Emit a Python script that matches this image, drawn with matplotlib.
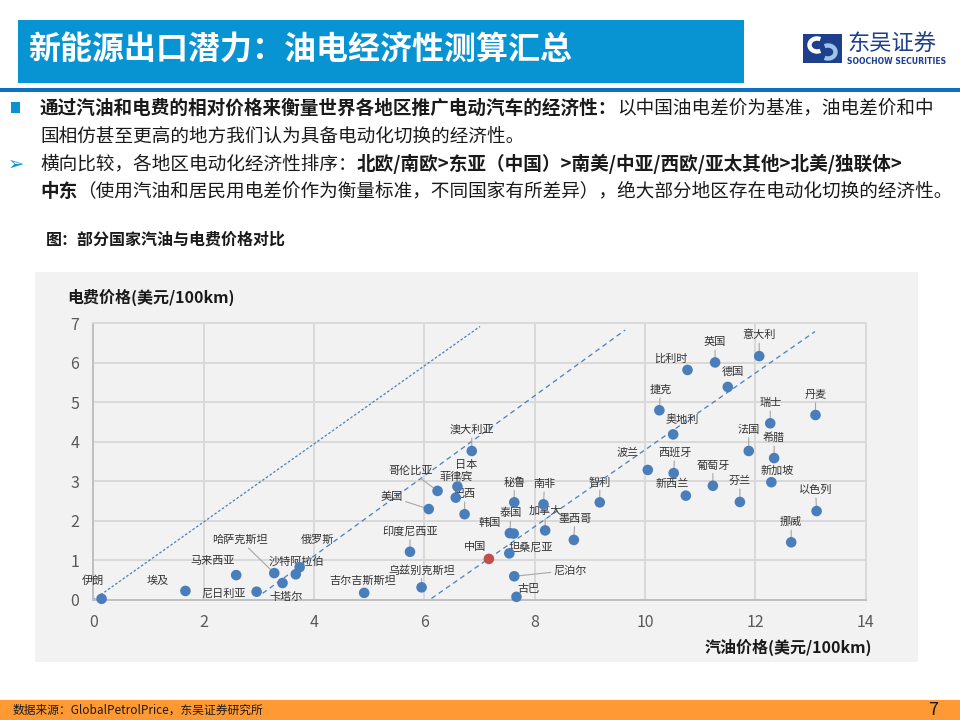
import matplotlib
matplotlib.use("Agg")
import matplotlib.pyplot as plt
from matplotlib.patches import Rectangle, Arc

plt.rcParams['font.family'] = ['Noto Sans CJK SC', 'DejaVu Sans']

# country, petrol price (USD/100km), electricity price (USD/100km)
countries = ['伊朗', '埃及', '马来西亚', '尼日利亚', '哈萨克斯坦', '卡塔尔', '沙特阿拉伯', '俄罗斯',
             '吉尔吉斯斯坦', '印度尼西亚', '乌兹别克斯坦', '美国', '哥伦比亚', '日本', '菲律宾', '巴西',
             '澳大利亚', '泰国', '韩国', '秘鲁', '南非', '加拿大', '墨西哥', '智利', '中国', '坦桑尼亚',
             '尼泊尔', '古巴', '波兰', '西班牙', '新西兰', '葡萄牙', '芬兰', '法国', '希腊', '新加坡',
             '以色列', '挪威', '丹麦', '瑞士', '奥地利', '捷克', '比利时', '英国', '德国', '意大利']
petrol = [0.15, 1.67, 2.59, 2.96, 3.28, 3.43, 3.67, 3.74,
          4.91, 5.74, 5.95, 6.08, 6.24, 6.60, 6.57, 6.73,
          6.86, 7.55, 7.62, 7.63, 8.16, 8.19, 8.71, 9.18, 7.17, 7.54,
          7.63, 7.67, 10.05, 10.52, 10.74, 11.23, 11.72, 11.88, 12.34, 12.29,
          13.11, 12.65, 13.09, 12.27, 10.51, 10.26, 10.77, 11.27, 11.50, 12.07]
power = [0.03, 0.23, 0.63, 0.21, 0.68, 0.43, 0.65, 0.83,
         0.18, 1.22, 0.32, 2.30, 2.76, 2.87, 2.59, 2.17,
         3.77, 1.69, 1.68, 2.47, 2.42, 1.76, 1.52, 2.47, 1.04, 1.18,
         0.60, 0.08, 3.29, 3.21, 2.64, 2.89, 2.48, 3.77, 3.59, 2.98,
         2.25, 1.46, 4.68, 4.47, 4.19, 4.80, 5.82, 6.01, 5.39, 6.17]

# label offsets in pixels (dx, dy up)
label_off = [(-9, 18), (-28, 10), (-24, 14), (-33, -2), (-34, 33), (4, -14), (1, 13), (18, 27),
             (-2, 12), (0, 20), (0, 17), (-37, 12), (-27, 20), (9, 22), (0, 21), (0, 20),
             (0, 21), (1, 20), (-24, 11), (0, 20), (1, 20), (0, 20), (1, 21), (0, 20), (-14, 12), (22, 6),
             (56, 6), (12, 8), (-20, 17), (1, 20), (-14, 12), (0, 20), (0, 21), (0, 21), (0, 20), (6, 12),
             (-1, 21), (0, 20), (0, 20), (0, 20), (9, 15), (1, 20), (-17, 11), (0, 20), (5, 15), (0, 21)]
no_leader = {'伊朗', '埃及', '马来西亚', '尼日利亚', '卡塔尔', '沙特阿拉伯', '俄罗斯', '吉尔吉斯斯坦',
             '中国', '坦桑尼亚', '古巴', '波兰', '新西兰', '韩国', '新加坡', '比利时', '德国', '奥地利'}

# reference lines (start, end)
ref_x = [(0.0, 7.01), (3.07, 9.64), (6.13, 13.08)]
ref_y = [(0.0, 6.92), (0.17, 6.83), (0.04, 6.79)]

line1_bold = '通过汽油和电费的相对价格来衡量世界各地区推广电动汽车的经济性：'
line1_reg = '以中国油电差价为基准，油电差价和中'
line2_reg = '国相仿甚至更高的地方我们认为具备电动化切换的经济性。'
line3_reg = '横向比较，各地区电动化经济性排序：'
line3_bold = '北欧/南欧>东亚（中国）>南美/中亚/西欧/亚太其他>北美/独联体>'
line4_bold = '中东'
line4_reg = '（使用汽油和居民用电差价作为衡量标准，不同国家有所差异），绝大部分地区存在电动化切换的经济性。'

blue_pt = '#4A7EBB'
grey_txt = '#595959'

fig = plt.figure(figsize=(9.6, 7.2), dpi=100)
fig.patch.set_facecolor('white')

# background layer in pixel coordinates
bg = fig.add_axes([0, 0, 1, 1], zorder=0)
bg.set_xlim(0, 960)
bg.set_ylim(720, 0)
bg.axis('off')

# header
bg.add_patch(Rectangle((18, 20), 726, 63, color='#0894D3', lw=0))
bg.text(28, 51, '新能源出口潜力：油电经济性测算汇总', color='white', fontsize=23,
        fontweight='bold', va='center', ha='left')
bg.add_patch(Rectangle((0, 88), 960, 4, color='#0B72C0', lw=0))

# logo
bg.add_patch(Rectangle((803, 34), 39, 29, color='#1D3F8C', lw=0))
bg.add_patch(Arc((817, 45), 15, 13, theta1=60, theta2=300, color='white', lw=3.2))
bg.add_patch(Arc((828, 52), 15, 13, theta1=240, theta2=120, color='#9DC3E6', lw=3.2))
bg.text(847, 44, '东吴证券', color='#1D3F8C', fontsize=16, va='center', ha='left')
bg.text(847, 61, 'SOOCHOW SECURITIES', color='#1D3F8C', fontsize=5.6, fontweight='bold',
        va='center', ha='left', family=['DejaVu Sans'])

# bullets
renderer = fig.canvas.get_renderer()


def put_segments(x, y, segments, size=13.4):
    for txt, weight in segments:
        t = bg.text(x, y, txt, fontsize=size, fontweight=weight, va='center', ha='left', color='#1a1a1a')
        x += t.get_window_extent(renderer).width


bg.add_patch(Rectangle((11, 102), 9, 11, color='#0894D3', lw=0))
put_segments(40, 108, [(line1_bold, 'bold'), (line1_reg, 'normal')])
put_segments(40, 137, [(line2_reg, 'normal')])
bg.text(16, 164, '➢', fontsize=14, color='#0894D3', va='center', ha='center',
        family=['DejaVu Sans'])
put_segments(40, 164, [(line3_reg, 'normal'), (line3_bold, 'bold')])
put_segments(40, 191, [(line4_bold, 'bold'), (line4_reg, 'normal')])

bg.text(46, 240, '图：部分国家汽油与电费价格对比', fontsize=11.5, fontweight='bold', va='center',
        ha='left', color='#1a1a1a')

# chart panel
bg.add_patch(Rectangle((35, 272), 883, 390, color='#F2F2F2', lw=0))
bg.text(67, 297, '电费价格(美元/100km)', fontsize=11.5, fontweight='bold', va='center', ha='left',
        color='#1a1a1a')
bg.text(872, 647, '汽油价格(美元/100km)', fontsize=11.5, fontweight='bold', va='center', ha='right',
        color='#1a1a1a')

# footer
bg.add_patch(Rectangle((0, 700), 960, 20, color='#FF9933', lw=0))
bg.text(13, 710, '数据来源：GlobalPetrolPrice，东吴证券研究所', fontsize=8.5, va='center', ha='left',
        color='#1a1a1a')
bg.text(933, 710, '7', fontsize=13, va='center', ha='center', color='#1a1a1a')

# scatter chart
ax = fig.add_axes([93.3 / 960, 1 - 600 / 720, (865.7 - 93.3) / 960, (600 - 323.3) / 720], zorder=1)
ax.set_facecolor('none')
ax.set_xlim(0, 14)
ax.set_ylim(0, 7)
ax.set_xticks(range(0, 15, 2))
ax.set_yticks(range(0, 8))
ax.grid(True, color='#D9D9D9', lw=1.4)
ax.set_axisbelow(True)
for side, sp in ax.spines.items():
    sp.set_color('#D9D9D9')
    sp.set_linewidth(1.4)
ax.spines['left'].set_color('#BFBFBF')
ax.spines['bottom'].set_color('#BFBFBF')
ax.tick_params(length=0, colors=grey_txt, labelsize=11.5, pad=10)

styles = [(0, (2, 1.6)), (0, (4, 3)), (0, (4, 3))]
for (x0, x1), (y0, y1), ls in zip(ref_x, ref_y, styles):
    ax.plot([x0, x1], [y0, y1], color=blue_pt, lw=0.9, linestyle=ls, zorder=2)

colors = ['#C0504D' if c == '中国' else blue_pt for c in countries]
ax.scatter(petrol, power, s=58, c=colors, zorder=5, linewidths=0, clip_on=False)

for name, xv, yv, (dx, dy) in zip(countries, petrol, power, label_off):
    arrow = None if name in no_leader else dict(arrowstyle='-', color='#A6A6A6', lw=0.8,
                                                  shrinkA=0, shrinkB=0)
    ax.annotate(name, (xv, yv), xytext=(dx, dy), textcoords='offset pixels', ha='center',
                va='center', fontsize=8, color='#333333', arrowprops=arrow, zorder=4)

fig.savefig('out.png', dpi=100)
